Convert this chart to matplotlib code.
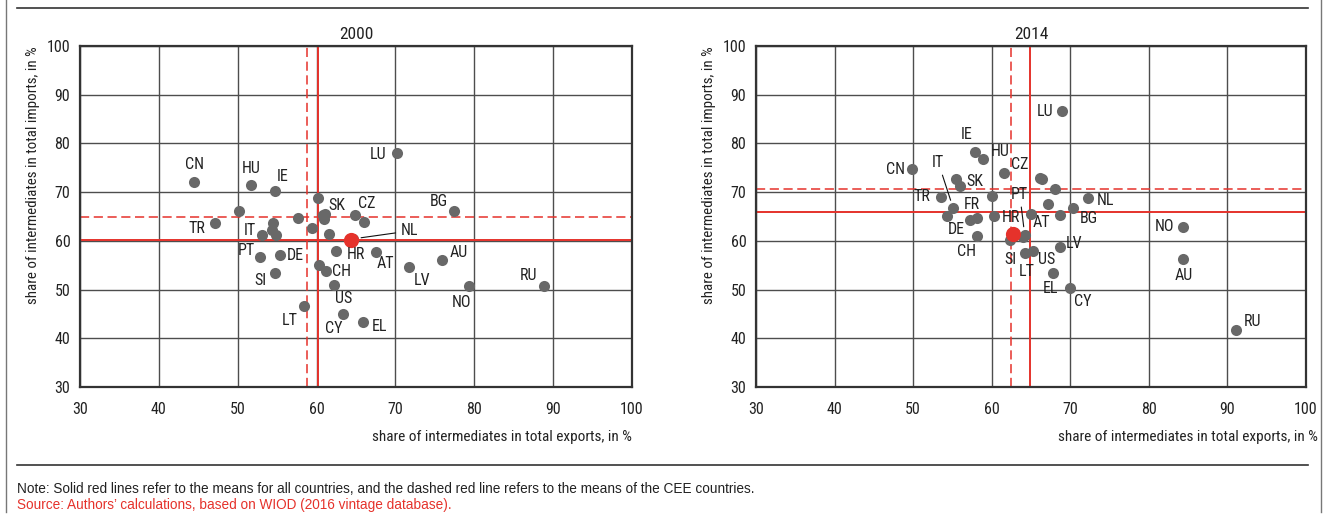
import matplotlib
matplotlib.use("Agg")
import matplotlib.pyplot as plt
from matplotlib.lines import Line2D

NARROW = ["Roboto Condensed", "Archivo Narrow", "DejaVu Sans"]
REGULAR = ["Liberation Sans", "DejaVu Sans"]

GREY = "#686868"
RED = "#e5322b"

# 2000: share of intermediates in exports (x) and imports (y), in %
c2000 = ["CN", "HU", "IE", "TR", "IT", "PT", "DE", "SI", "LT", "CY", "EL", "US",
         "CH", "AT", "NL", "LV", "AU", "NO", "RU", "BG", "LU", "SK", "CZ",
         "", "", "", "", "", "", "", "", "", "", "", "", ""]
x2000 = [44.5, 51.7, 54.7, 47.1, 53.1, 52.8, 55.4, 54.7, 58.4, 63.3, 65.9, 62.2,
         61.2, 67.5, 64.6, 71.7, 75.9, 79.3, 88.9, 77.4, 70.2, 60.8, 64.9,
         50.1, 54.5, 54.8, 54.3, 57.6, 59.4, 60.2, 61.1, 61.0, 61.6, 62.5, 60.3, 66.0]
y2000 = [72.1, 71.4, 70.3, 63.6, 61.3, 56.7, 57.0, 53.5, 46.6, 45.0, 43.3, 50.9,
         53.9, 57.8, 60.4, 54.6, 56.1, 50.8, 50.7, 66.1, 78.0, 65.4, 65.4,
         66.1, 63.6, 61.1, 62.3, 64.6, 62.7, 68.9, 65.6, 64.4, 61.5, 57.9, 55.0, 63.9]
hr2000 = (64.4, 60.2)
mean_all_2000 = (60.2, 60.2)
mean_cee_2000 = (58.8, 64.8)

# 2014
c2014 = ["LU", "IE", "HU", "CZ", "SK", "IT", "CN", "TR", "FR", "DE", "CH", "PT",
         "AT", "BG", "NL", "LV", "SI", "LT", "US", "EL", "CY", "NO", "AU", "RU",
         "", "", "", "", "", "", "", "", "", ""]
x2014 = [69.0, 57.9, 58.9, 61.6, 55.9, 55.1, 49.9, 53.5, 58.1, 57.2, 58.1, 64.2,
         65.0, 70.4, 72.2, 68.7, 62.3, 64.2, 65.3, 67.8, 70.0, 84.4, 84.4, 91.1,
         55.5, 54.3, 60.0, 60.3, 66.1, 66.4, 68.1, 67.2, 68.7, 64.0]
y2014 = [86.7, 78.3, 76.9, 74.0, 71.3, 66.7, 74.7, 69.1, 64.6, 64.3, 61.0, 61.2,
         65.5, 66.8, 68.8, 58.7, 60.1, 57.6, 57.9, 53.4, 50.3, 62.9, 56.3, 41.6,
         72.8, 65.2, 69.2, 65.1, 73.0, 72.6, 70.7, 67.5, 65.3, 60.8]
hr2014 = (62.7, 61.5)
mean_all_2014 = (64.9, 65.9)
mean_cee_2014 = (62.4, 70.7)

# label offsets in pixels (dx, dy), and which labels get a leader line
off2000 = {"CN": (0, 17), "HU": (0, 17), "IE": (8, 14), "TR": (-18, -5),
           "IT": (-12, 4), "PT": (-13, 6), "DE": (15, 0), "SI": (-14, -8),
           "LT": (-14, -14), "CY": (-9, -15), "EL": (16, -4), "US": (10, -13),
           "CH": (15, -1), "AT": (10, -12), "NL": (57, 8), "LV": (13, -13),
           "AU": (17, 7), "NO": (-7, -17), "RU": (-16, 11), "BG": (-15, 10),
           "LU": (-19, -1), "SK": (14, 9), "CZ": (11, 11), "HR": (5, -15)}
off2014 = {"LU": (-17, -1), "IE": (-9, 17), "HU": (17, 7), "CZ": (15, 8),
           "SK": (15, 4), "IT": (-15, 46), "CN": (-17, 0), "TR": (-19, 0),
           "FR": (-5, 14), "DE": (-13, -10), "CH": (-10, -16), "PT": (-5, 41),
           "AT": (10, -8), "BG": (15, -11), "NL": (18, -3), "LV": (14, 4),
           "SI": (1, -19), "LT": (2, -19), "US": (13, -8), "EL": (-3, -15),
           "CY": (12, -13), "NO": (-19, 0), "AU": (0, -17), "RU": (16, 9),
           "HR": (-2, 16)}
leaders = {"2000": ["NL"], "2014": ["IT", "PT"]}

fig = plt.figure(figsize=(13.3, 5.19), dpi=100)
W, H = 1330, 519


def panel(left_px, width_px, title, names, xs, ys, hr, m_all, m_cee, offs, lead,
          xlab_x):
    ax = fig.add_axes([left_px / W, (H - 387) / H, width_px / W, 341 / H])
    ax.set_xlim(30, 100)
    ax.set_ylim(30, 100)
    ax.set_xticks(range(30, 101, 10))
    ax.set_yticks(range(30, 101, 10))
    ax.grid(True, color="#4d4d4d", lw=1.0)
    ax.set_axisbelow(True)
    for s in ax.spines.values():
        s.set_color("#333333")
        s.set_linewidth(1.6)
    ax.tick_params(length=0, labelsize=11.5, colors="#222222")
    ax.tick_params(axis="x", pad=11)
    ax.tick_params(axis="y", pad=7)
    for lab in ax.get_xticklabels() + ax.get_yticklabels():
        lab.set_family(NARROW)

    ax.axvline(m_all[0], color=RED, lw=1.4, zorder=2)
    ax.axhline(m_all[1], color=RED, lw=1.4, zorder=2)
    ax.axvline(m_cee[0], color=RED, lw=1.1, ls=(0, (6, 3)), zorder=2)
    ax.axhline(m_cee[1], color=RED, lw=1.1, ls=(0, (6, 3)), zorder=2)

    ax.scatter(xs, ys, s=64, color=GREY, zorder=3, linewidths=0)
    ax.scatter([hr[0]], [hr[1]], s=120, color=RED, zorder=4, linewidths=0)

    pts = list(zip(names, xs, ys)) + [("HR", hr[0], hr[1])]
    for n, x, y in pts:
        if not n:
            continue
        dx, dy = offs[n]
        kw = {}
        if n in lead:
            kw["arrowprops"] = dict(arrowstyle="-", color="#111111", lw=0.8,
                                    shrinkA=2, shrinkB=6)
        ax.annotate(n, (x, y), xytext=(dx * 0.72, dy * 0.72),
                    textcoords="offset points", ha="center", va="center",
                    fontsize=11.5, family=NARROW, color="#222222", zorder=5, **kw)

    ax.set_title(title, fontsize=12.5, family=NARROW, color="#222222", pad=5)
    ax.set_ylabel("share of intermediates in total imports, in %", loc="top",
                  fontsize=10.8, family=NARROW, color="#222222", labelpad=5)
    ax.set_xlabel("share of intermediates in total exports, in %",
                  fontsize=11, family=NARROW, color="#222222", ha="right",
                  va="center")
    ax.xaxis.set_label_coords(xlab_x, -50 / 341)
    return ax


panel(80, 552, "2000", c2000, x2000, y2000, hr2000, mean_all_2000,
      mean_cee_2000, off2000, leaders["2000"], 1.0)
panel(756, 550, "2014", c2014, x2014, y2014, hr2014, mean_all_2014,
      mean_cee_2014, off2014, leaders["2014"], 562 / 550)


# frame decorations
def fline(x0, y0, x1, y1, c="#333333", lw=1.0):
    fig.add_artist(Line2D([x0 / W, x1 / W], [1 - y0 / H, 1 - y1 / H],
                          color=c, lw=lw, transform=fig.transFigure))


fline(17, 8, 1308, 8, lw=1.2)
fline(17, 465, 1308, 465, lw=1.2)
fline(6, 0, 6, 512, c="#777777", lw=1.0)
fline(1321, 0, 1321, 512, c="#777777", lw=1.0)

fig.text(17 / W, 1 - 489 / H, "Note: Solid red lines refer to the means for all countries, "
         "and the dashed red line refers to the means of the CEE countries.",
         fontsize=9.8, family=REGULAR, color="#222222", va="center")
fig.text(17 / W, 1 - 505 / H, "Source: Authors\u2019 calculations, based on WIOD "
         "(2016 vintage database).", fontsize=9.8, family=REGULAR, color=RED,
         va="center")

fig.savefig("out.png", dpi=100)
